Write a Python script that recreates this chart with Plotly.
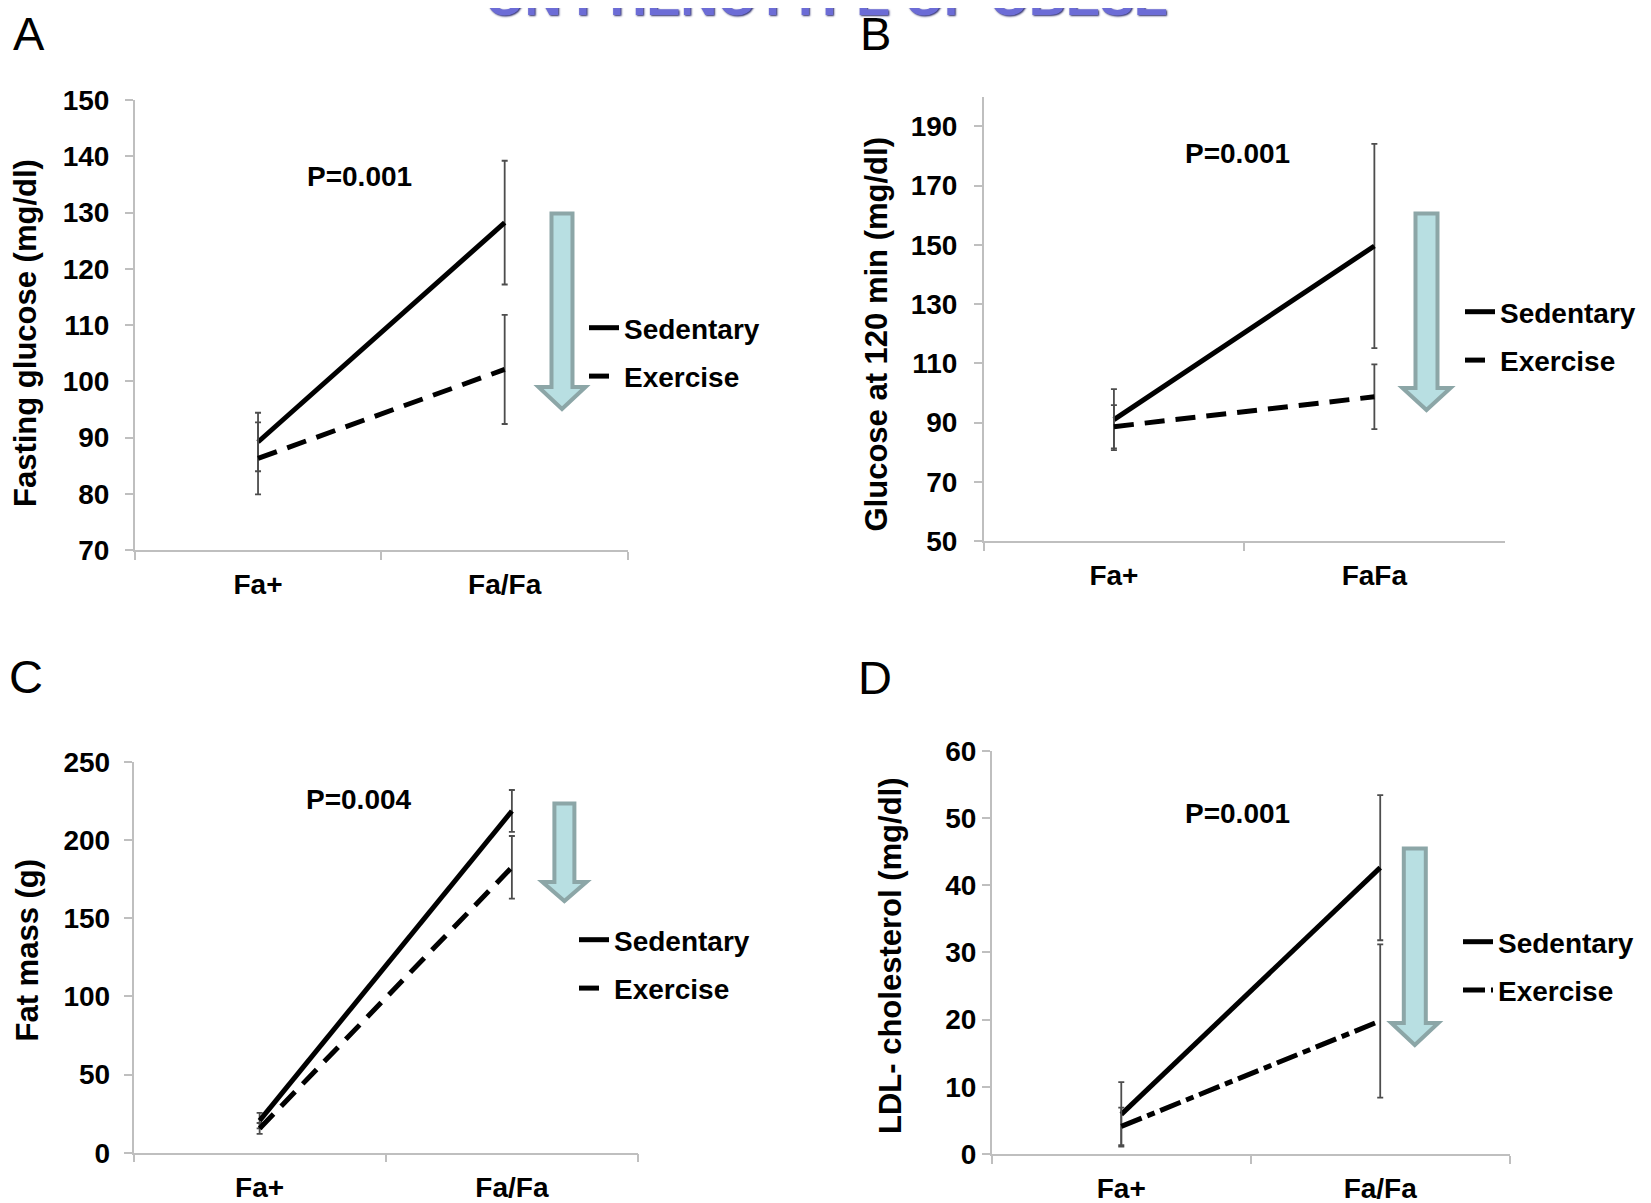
import plotly.graph_objects as go

W, H = 1651, 1203
OFF = 8  # page body margin of the browser page

# ---------------- data ----------------
cats_A = ["Fa+", "Fa/Fa"]
sed_A = [89.2, 128.2]
sed_A_err = [5.2, 11.0]
ex_A = [86.3, 102.1]
ex_A_err = [6.4, 9.7]

cats_B = ["Fa+", "FaFa"]
sed_B = [91.0, 149.6]
sed_B_err = [10.3, 34.5]
ex_B = [88.6, 98.7]
ex_B_err = [7.3, 10.9]

cats_C = ["Fa+", "Fa/Fa"]
sed_C = [20.5, 218.5]
sed_C_err = [5.0, 13.4]
ex_C = [15.5, 182.5]
ex_C_err = [3.5, 20.0]

cats_D = ["Fa+", "Fa/Fa"]
sed_D = [5.9, 42.6]
sed_D_err = [4.8, 10.8]
ex_D = [4.1, 19.8]
ex_D_err = [2.8, 11.4]

series_names = ["Sedentary", "Exercise"]
ytitles = ["Fasting glucose (mg/dl)", "Glucose at 120 min (mg/dl)",
           "Fat mass (g)", "LDL- cholesterol (mg/dl)"]
pvals = ["P=0.001", "P=0.001", "P=0.004", "P=0.001"]
letters = ["A", "B", "C", "D"]
yranges = [[70, 150], [50, 200], [0, 250], [0, 60]]
yticks0 = [70, 50, 0, 0]
ydticks = [10, 20, 50, 10]

# ---------------- styling / layout (pixels) ----------------
BOLD = "Liberation Sans, Arial, sans-serif"
SANS = "Liberation Sans, Arial, sans-serif"
AXIS_GRAY = "#bfbfbf"
ERR_GRAY = "#4d4d4d"
FS = 28

# plot boxes: left, top, right, bottom (page pixels)
boxes = [(134.7, 100.0, 628.0, 550.0),
         (983.7, 96.7, 1504.6, 541.0),
         (133.5, 761.7, 638.0, 1152.7),
         (991.8, 750.7, 1509.7, 1154.0)]
ytick_standoff = [10, 11, 8, 0]
ytitle_pos = [(25, 333), (875.5, 335), (26.5, 950), (890, 956)]
pval_pos = [(359, 177), (1237, 153), (359, 799), (1237, 813)]
letter_pos = [(29, 33), (875.5, 33.5), (26, 676.5), (875, 677.5)]
legend_pos = [(584, 303), (1460, 287), (574, 915), (1458, 917)]
# arrow: cx, top, head start, tip, shaft width, head width
arrows = [(562, 213.5, 387, 409, 21, 47),
          (1426.5, 213.5, 388, 410, 22, 48),
          (564.4, 803.5, 882, 901, 20, 44),
          (1414.8, 848.5, 1023, 1045, 22, 47)]
ex_dash = ["20px,11px", "20px,11px", "20px,11px", "22px,6px,8px,6px"]


def px(x):
    return (x - OFF) / W


def py(y):
    return 1 - (y - OFF) / H


data = [(cats_A, sed_A, sed_A_err, ex_A, ex_A_err),
        (cats_B, sed_B, sed_B_err, ex_B, ex_B_err),
        (cats_C, sed_C, sed_C_err, ex_C, ex_C_err),
        (cats_D, sed_D, sed_D_err, ex_D, ex_D_err)]

fig = go.Figure()
annotations = []
shapes = []

for i, (cats, sed, sed_err, ex, ex_err) in enumerate(data):
    n = "" if i == 0 else str(i + 1)
    xa, ya, leg = "x" + n, "y" + n, "legend" + n
    fig.add_trace(go.Scatter(
        x=cats, y=sed, mode="lines", name=series_names[0], legendgroup="sed" + n,
        line=dict(color="black", width=5),
        error_y=dict(type="data", array=sed_err, color=ERR_GRAY, thickness=1.8, width=3),
        xaxis=xa, yaxis=ya, legend=leg))
    fig.add_trace(go.Scatter(
        x=cats, y=ex, mode="lines", name=series_names[1], legendgroup="ex" + n,
        line=dict(color="black", width=5, dash=ex_dash[i]),
        error_y=dict(type="data", array=ex_err, color=ERR_GRAY, thickness=1.8, width=3),
        xaxis=xa, yaxis=ya, legend=leg))

    l, t, r, b = boxes[i]
    fig.layout["xaxis" + n] = dict(
        domain=[px(l), px(r)], anchor=ya, type="category", range=[-0.5, 1.5],
        tickson="boundaries", ticks="outside", ticklen=8, tickwidth=1.5,
        tickcolor=AXIS_GRAY, showline=True, linecolor=AXIS_GRAY, linewidth=1.5,
        showgrid=False, zeroline=False, automargin=False,
        tickfont=dict(family=BOLD, size=FS, color="black", weight="bold"),
        ticklabelstandoff=9)
    fig.layout["yaxis" + n] = dict(
        domain=[py(b), py(t)], anchor=xa, range=yranges[i],
        tick0=yticks0[i], dtick=ydticks[i],
        ticks="outside", ticklen=8, tickwidth=1.5, tickcolor=AXIS_GRAY,
        showline=True, linecolor=AXIS_GRAY, linewidth=1.5,
        showgrid=False, zeroline=False, automargin=False,
        tickfont=dict(family=BOLD, size=FS, color="black", weight="bold"),
        ticklabelstandoff=ytick_standoff[i])
    lx, ly = legend_pos[i]
    fig.layout[leg] = dict(
        x=px(lx), y=py(ly), xanchor="left", yanchor="top",
        bgcolor="rgba(0,0,0,0)", itemwidth=30, tracegroupgap=9,
        font=dict(family=BOLD, size=FS, color="black", weight="bold"))

    tx, ty = ytitle_pos[i]
    annotations.append(dict(
        x=px(tx), y=py(ty), xref="paper", yref="paper", text=ytitles[i],
        textangle=-90, showarrow=False, xanchor="center", yanchor="middle",
        font=dict(family=SANS, size=31, color="black", weight="bold")))
    pxp, pyp = pval_pos[i]
    annotations.append(dict(
        x=px(pxp), y=py(pyp), xref="paper", yref="paper", text=pvals[i],
        showarrow=False, xanchor="center", yanchor="middle",
        font=dict(family=BOLD, size=FS, color="black", weight="bold")))
    lxp, lyp = letter_pos[i]
    annotations.append(dict(
        x=px(lxp), y=py(lyp), xref="paper", yref="paper", text=letters[i],
        showarrow=False, xanchor="center", yanchor="middle",
        font=dict(family=SANS, size=47, color="black")))

    cx, top, hs, tip, sw, hw = arrows[i]
    pts = [(cx - sw / 2, top), (cx + sw / 2, top), (cx + sw / 2, hs),
           (cx + hw / 2, hs), (cx, tip), (cx - hw / 2, hs), (cx - sw / 2, hs)]
    path = "M " + " L ".join(f"{px(a):.5f},{py(c):.5f}" for a, c in pts) + " Z"
    shapes.append(dict(type="path", path=path, xref="paper", yref="paper",
                       fillcolor="#b8dfe2", line=dict(color="#8ca6a7", width=4),
                       layer="above"))

# slide title, clipped at the top edge as in the source slide
annotations.append(dict(
    x=px(826), y=py(-3), xref="paper", yref="paper",
    text="ON PHENOTYPE OF OBESE", showarrow=False,
    xanchor="center", yanchor="middle",
    font=dict(family=SANS, size=51, color="#6c6cd6", weight="bold",
              shadow="1px 1px 2px #2a2a6a")))

fig.update_layout(
    width=W, height=H, margin=dict(l=0, r=0, t=0, b=0, autoexpand=False),
    paper_bgcolor="white", plot_bgcolor="white",
    annotations=annotations, shapes=shapes, showlegend=True)

fig.write_html("out.html")
